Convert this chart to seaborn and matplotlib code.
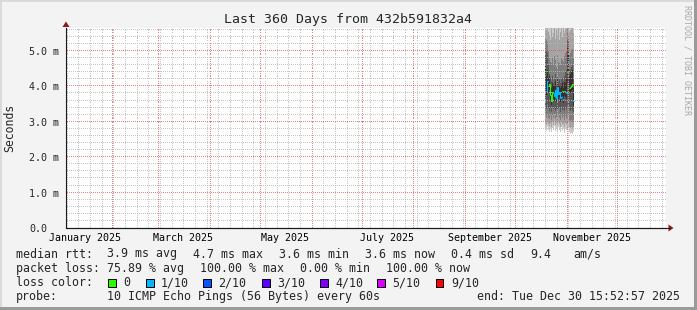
import numpy as np
import pandas as pd
import matplotlib
matplotlib.use("Agg")
import matplotlib.pyplot as plt
import matplotlib.dates as mdates
from matplotlib.ticker import MultipleLocator, NullFormatter, FixedLocator, FixedFormatter
from matplotlib.patches import Rectangle, Polygon
from matplotlib.lines import Line2D
import seaborn as sns

# ---------------- data ----------------
title = "Last 360 Days from 432b591832a4"
y_label = "Seconds"
end_time = "2025-12-30 15:52:57"
span_days = 360
first_step = "2025-10-19 08:40"
step_hours = 14.4

median_ms = [4.44, 3.87, 4.15, 4.00, 4.07, 3.75, 3.60, 3.85, 3.80, 3.73,
             3.90, 3.66, 3.99, 3.78, 3.83, 3.67, 3.70, 3.88, 3.64, 3.87,
             3.85, 3.80, 4.42, 4.70, 3.95, 3.98, 4.02, 4.07, 3.59]
loss_tenths = [0, 1, 1, 0, 0, 0, 0, 0, 1, 1,
               1, 1, 1, 1, 1, 1, 1, 0, 1, 0,
               1, 1, 0, 1, 0, 0, 0, 0, 1]
# sorted ping rtts per step (ms), ping1 = fastest ... ping10 = slowest
ping1 = [2.80, 2.75, 2.85, 2.78, 2.72, 2.80, 2.70, 2.82, 2.76, 2.88, 2.74, 2.80, 2.72, 2.84, 2.78,
         2.70, 2.86, 2.74, 2.80, 2.68, 2.82, 2.76, 2.78, 2.84, 2.70, 2.66, 2.68, 2.65, 2.70]
ping2 = [2.95, 2.90, 3.00, 2.95, 2.88, 2.98, 2.85, 3.00, 2.92, 3.02, 2.90, 2.96, 2.88, 3.00, 2.94,
         2.86, 3.02, 2.90, 2.95, 2.84, 2.98, 2.92, 2.95, 3.00, 2.85, 2.82, 2.84, 2.80, 2.86]
ping3 = [3.15, 3.10, 3.20, 3.12, 3.08, 3.18, 3.05, 3.20, 3.10, 3.22, 3.08, 3.14, 3.06, 3.18, 3.12,
         3.04, 3.20, 3.10, 3.15, 3.04, 3.16, 3.12, 3.15, 3.20, 3.05, 3.02, 3.05, 3.00, 3.06]
ping4 = [3.45, 3.35, 3.50, 3.40, 3.30, 3.38, 3.28, 3.42, 3.35, 3.40, 3.30, 3.36, 3.32, 3.40, 3.38,
         3.28, 3.42, 3.34, 3.36, 3.30, 3.38, 3.35, 3.45, 3.50, 3.32, 3.30, 3.35, 3.30, 3.28]
ping5 = [4.20, 3.75, 3.95, 3.85, 3.90, 3.62, 3.48, 3.70, 3.65, 3.60, 3.75, 3.55, 3.82, 3.65, 3.70,
         3.55, 3.58, 3.72, 3.52, 3.72, 3.70, 3.65, 4.10, 4.40, 3.80, 3.82, 3.85, 3.90, 3.45]
ping6 = [4.70, 4.30, 4.45, 4.25, 4.30, 4.05, 3.95, 4.10, 4.05, 4.00, 4.15, 3.90, 4.20, 4.00, 4.05,
         3.95, 4.00, 4.10, 3.95, 4.12, 4.10, 4.20, 5.10, 5.00, 4.30, 4.35, 4.40, 4.45, 3.95]
ping7 = [5.05, 5.00, 4.95, 4.60, 4.35, 4.25, 4.15, 4.30, 4.10, 4.20, 4.35, 4.05, 4.30, 4.15, 4.25,
         4.10, 4.20, 4.25, 4.15, 4.30, 4.40, 4.45, 5.30, 5.25, 4.45, 4.50, 4.55, 4.60, 4.25]
ping8 = [5.35, 5.30, 5.25, 5.00, 4.80, 4.70, 4.65, 4.80, 4.60, 4.85, 4.75, 4.55, 4.90, 4.70, 4.65,
         4.60, 4.80, 4.75, 4.70, 4.85, 4.95, 5.00, 5.50, 5.45, 4.90, 4.95, 5.00, 5.05, 4.80]
ping9 = [5.75, 5.60, 5.70, 5.55, 5.45, 5.30, 5.65, 5.40, 5.50, 5.70, 5.35, 5.60, 5.45, 5.75, 5.30,
         5.55, 5.65, 5.40, 5.70, 5.50, 5.60, 5.65, 5.80, 5.70, 5.55, 5.60, 5.65, 5.70, 5.50]
ping10 = [6.2, 6.0, 6.3, 6.0, 6.1, 5.9, 6.4, 6.0, 6.2, 6.1, 5.9, 6.3, 6.0, 6.5, 5.9,
          6.2, 6.1, 6.0, 6.4, 6.0, 6.2, 6.1, 6.3, 6.2, 6.0, 6.1, 6.2, 6.3, 6.1]

smoke_colors = ["#cacaca", "#a4a4a4", "#7e7e7e", "#585858", "#323232"]
loss_levels = [0, 1, 2, 3, 4, 5, 9]
loss_labels = ["0", "1/10", "2/10", "3/10", "4/10", "5/10", "9/10"]
loss_colors = ["#26ff00", "#00b8ff", "#0059ff", "#5e00ff", "#7e00ff", "#dd00ff", "#ff0000"]

y_ticks = [0, 1, 2, 3, 4, 5]
y_tick_labels = ["0.0", "1.0 m", "2.0 m", "3.0 m", "4.0 m", "5.0 m"]
y_max = 5.65
month_label_dates = ["2025-01-16", "2025-03-16", "2025-05-16", "2025-07-16", "2025-09-16", "2025-11-16"]
month_labels = ["January 2025", "March 2025", "May 2025", "July 2025", "September 2025", "November 2025"]

rtt_row = ["median rtt:", "3.9 ms avg", "4.7 ms max", "3.6 ms min", "3.6 ms now", "0.4 ms sd", "9.4", "am/s"]
loss_row = ["packet loss:", "75.89 % avg", "100.00 % max", "0.00 % min", "100.00 % now"]
color_row_head = "loss color:"
probe_row = ["probe:", "10 ICMP Echo Pings (56 Bytes) every 60s", "end: Tue Dec 30 15:52:57 2025"]

# ---------------- style ----------------
sns.set_style("white")
plt.rcParams["font.family"] = ["DejaVu Sans Mono"]
W, H = 697, 310
fig = plt.figure(figsize=(W / 100, H / 100), dpi=100, facecolor="#F3F3F3")

def fx(x):
    return x / W

def fy(y):
    return 1 - y / H

# frame shading
fig.add_artist(Rectangle((0, fy(2)), 1, 2 / H, transform=fig.transFigure, color="#DADADA", lw=0))
fig.add_artist(Rectangle((0, 0), 2 / W, 1, transform=fig.transFigure, color="#DADADA", lw=0))
fig.add_artist(Rectangle((fx(694), 0), 3 / W, 1, transform=fig.transFigure, color="#9A9A9A", lw=0))
fig.add_artist(Rectangle((0, 0), 1, 3 / H, transform=fig.transFigure, color="#9A9A9A", lw=0))

left, right, top, bottom = 66, 666, 28, 228
pw, ph = right - left, bottom - top
ax = fig.add_axes([fx(left), fy(bottom), pw / W, ph / H])
ax.set_facecolor("white")

end = pd.Timestamp(end_time)
start = end - pd.Timedelta(days=span_days)
x0, x1 = mdates.date2num(start), mdates.date2num(end)
ax.set_xlim(x0, x1)
ax.set_ylim(0, y_max)

# smoke
n = len(median_ms)
t0 = pd.Timestamp(first_step)
edges = mdates.date2num([t0 + pd.Timedelta(hours=step_hours * i) for i in range(n + 1)])
pings = [ping1, ping2, ping3, ping4, ping5, ping6, ping7, ping8, ping9, ping10]
for k in range(5):
    lo = list(pings[k]) + [pings[k][-1]]
    hi = list(pings[9 - k]) + [pings[9 - k][-1]]
    ax.fill_between(edges, lo, hi, step="post", color=smoke_colors[k], lw=0, zorder=1,
                    antialiased=False)

# median, coloured by loss
i = 0
while i < n:
    j = i
    while j + 1 < n and loss_tenths[j + 1] == loss_tenths[i]:
        j += 1
    xs = list(edges[i:j + 2])
    ys = list(median_ms[i:j + 1]) + [median_ms[j]]
    col = loss_colors[loss_levels.index(loss_tenths[i])]
    sns.lineplot(x=xs, y=ys, drawstyle="steps-post", color=col, lw=0.75,
                 estimator=None, sort=False, ax=ax, zorder=3)
    i = j + 1

# ticks / locators
ax.xaxis.set_major_locator(mdates.MonthLocator())
ax.xaxis.set_minor_locator(mdates.WeekdayLocator(byweekday=mdates.SU))
ax.xaxis.set_major_formatter(NullFormatter())
ax.xaxis.set_minor_formatter(NullFormatter())
ax.yaxis.set_major_locator(FixedLocator(y_ticks))
ax.yaxis.set_major_formatter(FixedFormatter(y_tick_labels))
ax.yaxis.set_minor_locator(MultipleLocator(0.2))
ax.grid(False)

# dotted grid drawn pixel by pixel (1 on / 1 off), from the axis locators
dot_x = x0 + (np.arange(0, pw, 2) + 0.5) * (x1 - x0) / pw
dot_y = (np.arange(0, ph, 2) + 0.5) * y_max / ph

def grid_points(xlocs, ylocs):
    gx, gy = [], []
    for v in ylocs:
        if 0 < v < y_max:
            gx.append(dot_x)
            gy.append(np.full_like(dot_x, v))
    for v in xlocs:
        if x0 < v < x1:
            gx.append(np.full_like(dot_y, v))
            gy.append(dot_y)
    return np.concatenate(gx), np.concatenate(gy)

mx, my = grid_points(ax.xaxis.get_minorticklocs(), ax.yaxis.get_minorticklocs())
ax.plot(mx, my, linestyle="none", marker=",", color="#BABABA", alpha=0.8, zorder=2)
Mx, My = grid_points(ax.xaxis.get_majorticklocs(), ax.yaxis.get_majorticklocs())
ax.plot(Mx, My, linestyle="none", marker=",", color="#DE4F4F", alpha=0.7, zorder=2)

ax.tick_params(axis="y", which="major", direction="out", length=2.2, width=0.72,
               color="#333333", pad=24.1, labelsize=7.2)
ax.tick_params(axis="y", which="minor", length=0)
ax.tick_params(axis="x", which="major", direction="inout", length=3, width=0.72, color="#E08080")
ax.tick_params(axis="x", which="minor", direction="inout", length=2, width=0.72, color="#BBBBBB")
for lab in ax.get_yticklabels():
    lab.set_horizontalalignment("left")

for s in ["top", "right"]:
    ax.spines[s].set_visible(False)
for s in ["left", "bottom"]:
    ax.spines[s].set_color("#1A1A1A")
    ax.spines[s].set_linewidth(0.8)
    ax.spines[s].set_zorder(5)
ax.set_xlabel("")
ax.set_ylabel("")

# extended x axis & arrows
fig.add_artist(Line2D([fx(left), fx(670)], [fy(bottom), fy(bottom)], transform=fig.transFigure,
                      color="#1A1A1A", lw=0.8))
fig.add_artist(Polygon([(fx(668.5), fy(224.5)), (fx(673.5), fy(228)), (fx(668.5), fy(231.5))],
                       closed=True, transform=fig.transFigure, color="#8B1A1A", lw=0))
fig.add_artist(Polygon([(fx(62.5), fy(27)), (fx(66), fy(21.5)), (fx(69.5), fy(27))],
                       closed=True, transform=fig.transFigure, color="#8B1A1A", lw=0))

# month labels
for d, lab in zip(month_label_dates, month_labels):
    ax.text(mdates.date2num(pd.Timestamp(d)), -10 / 200, lab, transform=ax.get_xaxis_transform(),
            ha="center", va="center", fontsize=7.2, color="black")

# title & labels
fig.text(fx(347.5), fy(19), title, ha="center", va="center", fontsize=9.5)
fig.text(fx(10), fy(128), y_label, rotation=90, ha="center", va="center", fontsize=8.3)
fig.text(fx(687), fy(60), "RRDTOOL / TOBI OETIKER", rotation=270, ha="center", va="center",
         fontsize=6, color="#A8A8A8")

# legend
fs = 8.35
rtt_x = [16, 107, 193, 279, 365, 451, 530, 573]
for x, t in zip(rtt_x, rtt_row):
    fig.text(fx(x), fy(254), t, ha="left", va="center", fontsize=fs)
loss_x = [16, 107, 200, 300, 386]
for x, t in zip(loss_x, loss_row):
    fig.text(fx(x), fy(268.5), t, ha="left", va="center", fontsize=fs)
fig.text(fx(16), fy(282.5), color_row_head, ha="left", va="center", fontsize=fs)
box_x = [108, 146, 203, 262, 320, 377, 436]
for x, lab, c in zip(box_x, loss_labels, loss_colors):
    fig.add_artist(Rectangle((fx(x), fy(286.5)), 7.5 / W, 8 / H, transform=fig.transFigure,
                             facecolor=c, edgecolor="black", lw=0.72))
    fig.text(fx(x + 15), fy(282.5), lab, ha="left", va="center", fontsize=fs)
probe_x = [16, 107]
for x, t in zip(probe_x, probe_row[:2]):
    fig.text(fx(x), fy(296.5), t, ha="left", va="center", fontsize=fs)
fig.text(fx(680), fy(296.5), probe_row[2], ha="right", va="center", fontsize=fs)

fig.savefig("out.png", dpi=100, facecolor=fig.get_facecolor())
